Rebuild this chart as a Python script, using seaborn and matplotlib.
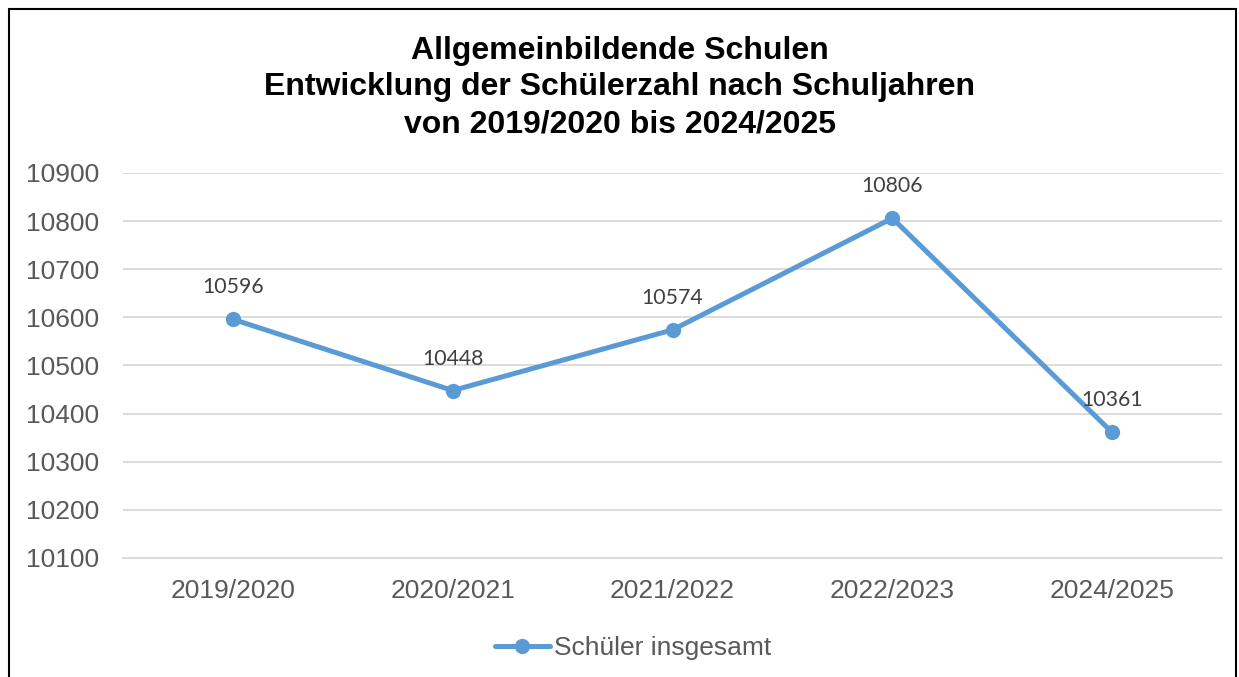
import matplotlib
matplotlib.use("Agg")
import matplotlib.pyplot as plt
import seaborn as sns
import pandas as pd
from matplotlib.patches import Rectangle

categories = ["2019/2020", "2020/2021", "2021/2022", "2022/2023", "2024/2025"]
values = [10596, 10448, 10574, 10806, 10361]
series_name = "Schüler insgesamt"
title = "Allgemeinbildende Schulen\nEntwicklung der Schülerzahl nach Schuljahren\nvon 2019/2020 bis 2024/2025"
y_ticks = [10100, 10200, 10300, 10400, 10500, 10600, 10700, 10800, 10900]

sns.set_style("white")
plt.rcParams['font.family'] = ['Liberation Sans', 'DejaVu Sans']

df = pd.DataFrame({"Schuljahr": categories, "Anzahl": values, "Serie": series_name})

fig = plt.figure(figsize=(12.39, 6.77), dpi=100)
ax = fig.add_axes([0.0993, 0.1758, 0.887, 0.5687])

color = "#5B9BD5"
sns.lineplot(data=df, x="Schuljahr", y="Anzahl", hue="Serie", palette=[color],
             marker="o", markersize=11, linewidth=3.6, markeredgewidth=0,
             sort=False, ax=ax)

ax.set_xlim(-0.5, len(categories) - 0.5)
ax.set_ylim(10100, 10900)
ax.set_yticks(y_ticks)
ax.yaxis.grid(True, color="#D9D9D9", linewidth=1.3)
ax.xaxis.grid(False)
for s in ["top", "right", "left"]:
    ax.spines[s].set_visible(False)
ax.spines["bottom"].set_color("#D9D9D9")
ax.spines["bottom"].set_linewidth(1.3)
ax.set_xlabel("")
ax.set_ylabel("")
ax.tick_params(axis="both", length=0, labelsize=19, labelcolor="#595959")
ax.tick_params(axis="y", pad=17)
ax.tick_params(axis="x", pad=15)

for i, v in enumerate(values):
    ax.annotate(str(v), (i, v), xytext=(0, 23), textcoords="offset points",
                ha="center", va="center", fontsize=15.3, color="#404040",
                family=["Lato", "DejaVu Sans"])

fig.text(0.5, 0.871, title, ha="center", va="center", fontsize=23,
         fontweight="bold", color="black", linespacing=1.29)

leg = ax.legend(loc="center", bbox_to_anchor=(0.464, -0.235), frameon=False,
                fontsize=19, handlelength=2.1, handletextpad=0.15)
for t in leg.get_texts():
    t.set_color("#595959")

fig.patches.append(Rectangle((9 / 1239, -0.05), (1236 - 9) / 1239, 1.05 - 9 / 677,
                             transform=fig.transFigure, fill=False,
                             edgecolor="black", linewidth=1.5))

fig.savefig("out.png", dpi=100)
